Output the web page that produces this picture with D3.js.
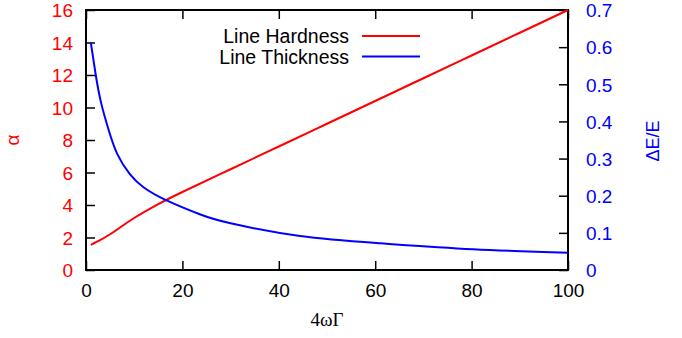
<!DOCTYPE html>
<html>
<head>
<meta charset="utf-8">
<script src="https://cdn.jsdelivr.net/npm/d3@7"></script>
<style>
  body { margin: 0; background: #fff; }
  svg { display: block; }
  text { font-family: "Liberation Sans", Arial, sans-serif; }
</style>
</head>
<body>
<div id="chart"></div>
<script>
// values
const hardnessX = [1, 3, 5, 7, 10, 15, 20, 30, 40, 50, 60, 70, 80, 90, 100];
const hardness = [1.55, 1.85, 2.2, 2.6, 3.2, 4.05, 4.8, 6.2, 7.6, 9.0, 10.4, 11.8, 13.2, 14.6, 16.0];

const thicknessX = [1, 2, 3.1, 4.7, 6.5, 9.1, 12, 16.6, 23.6, 30, 44.4, 61, 80.3, 100];
const thickness = [0.612, 0.527, 0.452, 0.377, 0.312, 0.258, 0.222, 0.188, 0.150, 0.1257, 0.0915, 0.072, 0.056, 0.0467];

const xTicks = [0, 20, 40, 60, 80, 100];
const leftTicks = [0, 2, 4, 6, 8, 10, 12, 14, 16];
const rightTicks = [0, 0.1, 0.2, 0.3, 0.4, 0.5, 0.6, 0.7];

const width = 682, height = 338;
const margin = { top: 10, right: 114, bottom: 68, left: 86 };
const w = width - margin.left - margin.right;
const h = height - margin.top - margin.bottom;

const svg = d3.select('#chart').append('svg')
  .attr('width', width)
  .attr('height', height);

const g = svg.append('g').attr('transform', `translate(${margin.left},${margin.top})`);

const x = d3.scaleLinear().domain([0, 100]).range([0, w]);
const yL = d3.scaleLinear().domain([0, 16]).range([h, 0]);
const yR = d3.scaleLinear().domain([0, 0.7]).range([h, 0]);

const tickLen = 9;

// axes with inward ticks
const bottomAxis = g.append('g').attr('transform', `translate(0,${h})`)
  .call(d3.axisBottom(x).tickValues(xTicks).tickSizeInner(-tickLen).tickSizeOuter(0).tickPadding(14));
const topAxis = g.append('g')
  .call(d3.axisTop(x).tickValues(xTicks).tickSizeInner(-tickLen).tickSizeOuter(0).tickFormat(''));
const leftAxis = g.append('g')
  .call(d3.axisLeft(yL).tickValues(leftTicks).tickSizeInner(-tickLen).tickSizeOuter(0).tickPadding(13));
const rightAxis = g.append('g').attr('transform', `translate(${w},0)`)
  .call(d3.axisRight(yR).tickValues(rightTicks).tickSizeInner(-tickLen).tickSizeOuter(0).tickPadding(18)
    .tickFormat(d => d === 0 ? '0' : d3.format('.1f')(d)));

[bottomAxis, topAxis, leftAxis, rightAxis].forEach(a => {
  a.select('.domain').remove();
  a.selectAll('line').attr('stroke', '#000').attr('stroke-width', 1.5);
  a.selectAll('text').style('font-size', '19px').style('font-family', '"Liberation Sans", Arial, sans-serif');
});
bottomAxis.selectAll('text').attr('fill', '#000');
leftAxis.selectAll('text').attr('fill', '#ff0000').attr('dy', '0.36em');
rightAxis.selectAll('text').attr('fill', '#0000ff').attr('dy', '0.36em');

// frame
g.append('rect')
  .attr('width', w).attr('height', h)
  .attr('fill', 'none').attr('stroke', '#000').attr('stroke-width', 2);

// lines
const lineL = d3.line().x(d => x(d[0])).y(d => yL(d[1])).curve(d3.curveNatural);
const lineR = d3.line().x(d => x(d[0])).y(d => yR(d[1])).curve(d3.curveNatural);

g.append('path')
  .datum(d3.zip(hardnessX, hardness))
  .attr('d', lineL)
  .attr('fill', 'none').attr('stroke', '#ff0000').attr('stroke-width', 2);

g.append('path')
  .datum(d3.zip(thicknessX, thickness))
  .attr('d', lineR)
  .attr('fill', 'none').attr('stroke', '#0000ff').attr('stroke-width', 2);

// legend
const legend = [
  { label: 'Line Hardness', color: '#ff0000' },
  { label: 'Line Thickness', color: '#0000ff' }
];
legend.forEach((d, i) => {
  const ly = 36 + i * 20.5;
  svg.append('text')
    .attr('x', 349).attr('y', ly).attr('dy', '0.36em')
    .attr('text-anchor', 'end')
    .style('font-size', '19.5px')
    .attr('fill', '#000')
    .text(d.label);
  svg.append('line')
    .attr('x1', 362).attr('x2', 420).attr('y1', ly).attr('y2', ly)
    .attr('stroke', d.color).attr('stroke-width', 2);
});

// axis titles
svg.append('text')
  .attr('transform', 'translate(19,140) rotate(-90)')
  .attr('text-anchor', 'middle')
  .style('font-size', '19px')
  .attr('fill', '#ff0000')
  .text('α');

svg.append('text')
  .attr('transform', 'translate(659,141) rotate(-90)')
  .attr('text-anchor', 'middle')
  .style('font-size', '18px')
  .attr('fill', '#0000ff')
  .text('ΔE/E');

svg.append('text')
  .attr('x', 327).attr('y', 326)
  .attr('text-anchor', 'middle')
  .style('font-family', '"Liberation Serif", "Times New Roman", serif')
  .style('font-size', '19px')
  .attr('fill', '#000')
  .text('4ωΓ');
</script>
</body>
</html>
